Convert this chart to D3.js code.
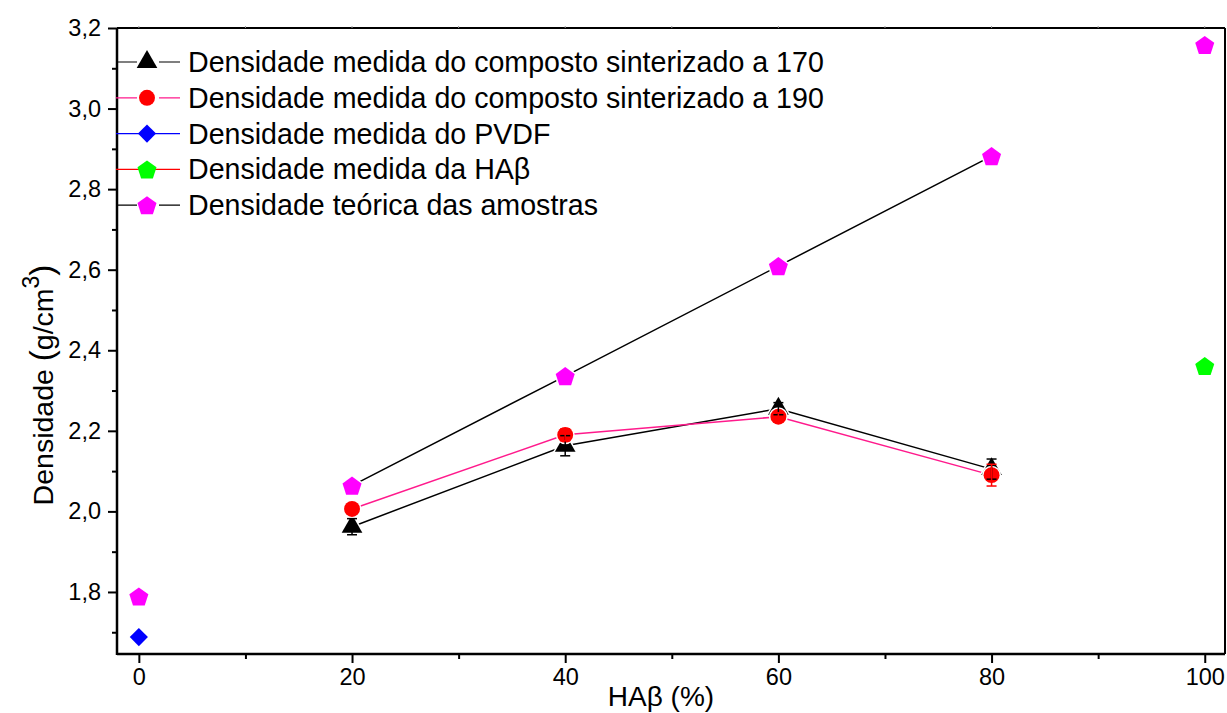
<!DOCTYPE html>
<html lang="pt">
<head>
<meta charset="UTF-8">
<title>Densidade</title>
<script src="https://cdn.jsdelivr.net/npm/d3@7/dist/d3.min.js"></script>
<style>
  body { margin: 0; background: #fff; }
  text { font-family: "Liberation Sans", Arial, sans-serif; }
</style>
</head>
<body>
<svg id="chart" width="1227" height="713"></svg>
<script>
// x values (% HAβ)
const hab = [0, 20, 40, 60, 80, 100];
const xTicks = [0, 20, 40, 60, 80, 100];
const yTicks = [1.8, 2.0, 2.2, 2.4, 2.6, 2.8, 3.0, 3.2];

// densidade medida, sinterizado a 170 e 190 (20..80 %)
const xComp = [20, 40, 60, 80];
const dens170 = [1.962, 2.163, 2.255, 2.105];
const err170 = [0.02, 0.025, 0.015, 0.025];
const dens190 = [2.006, 2.190, 2.235, 2.090];
const err190 = [0.01, 0.015, 0.01, 0.027];

// PVDF puro e HAβ pura
const densPVDF = [{x: 0, y: 1.688}];
const densHAB = [{x: 100, y: 2.361}];

// densidade teórica
const densTeor = [1.789, 2.064, 2.336, 2.609, 2.882, 3.158];

const legendLabels = [
  "Densidade medida do composto sinterizado a 170",
  "Densidade medida do composto sinterizado a 190",
  "Densidade medida do PVDF",
  "Densidade medida da HA\u03B2",
  "Densidade teo\u0301rica das amostras"
];

const margin = {top: 28, right: 2, bottom: 59, left: 117};
const W = 1227, H = 713;
const width = W - margin.left - margin.right;
const height = H - margin.top - margin.bottom;

const svg = d3.select("#chart");
const g = svg.append("g").attr("transform", "translate(" + margin.left + "," + margin.top + ")");

const x = d3.scaleLinear().domain([-2.05, 101.9]).range([0, width]);
const y = d3.scaleLinear().domain([1.646, 3.2]).range([height, 0]);

const pink = "#ff1a8c";
const fmt = d => d.toFixed(1).replace(".", ",");

// frame top/right
g.append("line").attr("x1", 0).attr("x2", width).attr("y1", 0).attr("y2", 0)
  .attr("stroke", "#000").attr("stroke-width", 2);
g.append("line").attr("x1", width).attr("x2", width).attr("y1", 0).attr("y2", height)
  .attr("stroke", "#000").attr("stroke-width", 2);
// tiny top ticks
g.append("g").selectAll("line").data(d3.range(0, 101, 10)).join("line")
  .attr("x1", d => x(d)).attr("x2", d => x(d)).attr("y1", 0).attr("y2", -2)
  .attr("stroke", "#999").attr("stroke-width", 1);

// x axis
const xAxis = g.append("g").attr("transform", "translate(0," + height + ")")
  .call(d3.axisBottom(x).tickValues(xTicks).tickSize(9).tickPadding(5).tickFormat(d3.format("d")));
g.append("g").attr("transform", "translate(0," + height + ")")
  .call(d3.axisBottom(x).tickValues(d3.range(10, 100, 20)).tickSize(5).tickFormat(""))
  .call(a => a.select(".domain").remove());

// y axis
const yAxis = g.append("g")
  .call(d3.axisLeft(y).tickValues(yTicks).tickSize(9).tickPadding(7).tickFormat(fmt));
g.append("g")
  .call(d3.axisLeft(y).tickValues(d3.range(1.7, 3.2, 0.2)).tickSize(5).tickFormat(""))
  .call(a => a.select(".domain").remove());

g.selectAll(".tick line").attr("stroke", "#000").attr("stroke-width", 2);
g.selectAll(".domain").attr("stroke", "#000").attr("stroke-width", 2.5);
g.selectAll(".tick text").attr("font-size", 23.5).attr("fill", "#000")
  .attr("font-family", "'Liberation Sans', Arial, sans-serif");
xAxis.selectAll(".domain").attr("d", "M0,0H" + width);
yAxis.selectAll(".domain").attr("d", "M0," + (height + 1) + "V0");

// axis titles
svg.append("text").attr("x", 661).attr("y", 706).attr("text-anchor", "middle")
  .attr("font-size", 28).text("HA\u03B2 (%)");
const yt = svg.append("text").attr("transform", "translate(53,385) rotate(-90)")
  .attr("text-anchor", "middle").attr("font-size", 28.5);
yt.append("tspan").text("Densidade ");
yt.append("tspan").attr("font-size", 33).text("(");
yt.append("tspan").text("g/cm");
yt.append("tspan").attr("font-size", 23).attr("dy", -14).text("3");
yt.append("tspan").attr("font-size", 33).attr("dy", 14).text(")");

// pentagon marker path
function pentagon(r) {
  const pts = d3.range(5).map(i => {
    const a = -Math.PI / 2 + i * 2 * Math.PI / 5;
    return [r * Math.cos(a), r * Math.sin(a) + r * 0.1];
  });
  return "M" + pts.map(p => p.join(",")).join("L") + "Z";
}
const tri = d3.symbol().type(d3.symbolTriangle).size(185)();
const circ = d3.symbol().type(d3.symbolCircle).size(200)();
const diam = d3.symbol().type(d3.symbolSquare).size(165)();
const pent = pentagon(10);

const lineGen = d3.line().x(d => x(d.x)).y(d => y(d.y));
const s170 = xComp.map((v, i) => ({x: v, y: dens170[i], e: err170[i]}));
const s190 = xComp.map((v, i) => ({x: v, y: dens190[i], e: err190[i]}));
const sTeor = hab.map((v, i) => ({x: v, y: densTeor[i]}));

// lines
g.append("path").datum(sTeor.filter(d => d.x >= 20 && d.x <= 80)).attr("d", lineGen)
  .attr("fill", "none").attr("stroke", "#000").attr("stroke-width", 1.5);
g.append("path").datum(s170).attr("d", lineGen)
  .attr("fill", "none").attr("stroke", "#000").attr("stroke-width", 1.5);
g.append("path").datum(s190).attr("d", lineGen)
  .attr("fill", "none").attr("stroke", pink).attr("stroke-width", 1.5);

// markers (white halo breaks lines like the original)
function markers(data, path, color, rot) {
  g.append("g").selectAll("path").data(data).join("path")
    .attr("d", path)
    .attr("transform", d => "translate(" + x(d.x) + "," + y(d.y) + ")" + (rot ? " rotate(45)" : ""))
    .attr("fill", color).attr("stroke", "#fff").attr("stroke-width", 3).attr("paint-order", "stroke");
}
markers(sTeor, pent, "#ff00ff");
markers(s170, tri, "#000");
markers(s190, circ, "#ff0000");
markers(densPVDF, diam, "#0000ff", true);
markers(densHAB, pent, "#00ff00");

// error bars
function errorBars(data, color) {
  const eg = g.append("g").attr("stroke", color).attr("stroke-width", 1.5);
  data.forEach(d => {
    const cx = x(d.x), y0 = y(d.y - d.e), y1 = y(d.y + d.e);
    eg.append("line").attr("x1", cx).attr("x2", cx).attr("y1", y0).attr("y2", y1);
    eg.append("line").attr("x1", cx - 5).attr("x2", cx + 5).attr("y1", y0).attr("y2", y0);
    eg.append("line").attr("x1", cx - 5).attr("x2", cx + 5).attr("y1", y1).attr("y2", y1);
  });
}
errorBars(s170, "#000");
errorBars(s190, "#ff0000");

// legend
const legend = [
  {sym: tri, fill: "#000", line: "#000", halo: true},
  {sym: circ, fill: "#ff0000", line: pink, halo: true},
  {sym: diam, fill: "#0000ff", line: "#0000ff", halo: false, rot: true},
  {sym: pent, fill: "#00ff00", line: "#ff0000", halo: false},
  {sym: pent, fill: "#ff00ff", line: "#000", halo: true}
];
const lg = svg.append("g");
legend.forEach((d, i) => {
  const ly = 62 + i * 35.8;
  lg.append("line").attr("x1", 116).attr("x2", 180).attr("y1", ly).attr("y2", ly)
    .attr("stroke", d.line).attr("stroke-width", 1.2);
  if (d.halo) {
    lg.append("rect").attr("x", 137).attr("y", ly - 5).attr("width", 22).attr("height", 10).attr("fill", "#fff");
  }
  lg.append("path").attr("d", d.sym)
    .attr("transform", "translate(147," + ly + ")" + (d.rot ? " rotate(45)" : "")).attr("fill", d.fill);
  lg.append("text").attr("x", 188).attr("y", ly + 10).attr("font-size", 28.6).text(legendLabels[i]);
});
</script>
</body>
</html>
